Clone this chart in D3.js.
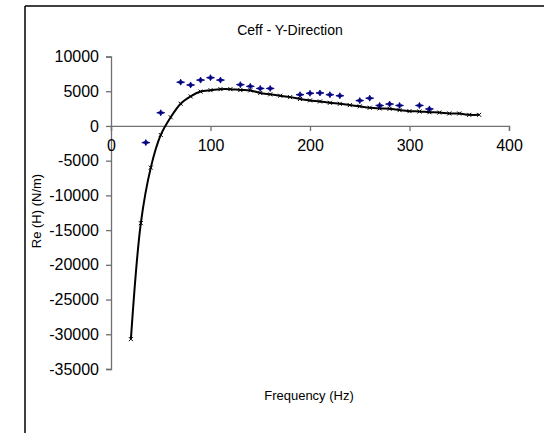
<!DOCTYPE html>
<html>
<head>
<meta charset="utf-8">
<script src="https://cdn.jsdelivr.net/npm/d3@7"></script>
<style>
  html, body { margin: 0; padding: 0; background: #fff; }
  svg { display: block; font-family: "Liberation Sans", Arial, sans-serif; }
</style>
</head>
<body>
<svg id="chart" width="544" height="433"></svg>
<script>
// ---- data ----
const title = "Ceff - Y-Direction";
const xLabel = "Frequency (Hz)";
const yLabel = "Re (H) (N/m)";
const xTicks = [0, 100, 200, 300, 400];
const yTicks = [10000, 5000, 0, -5000, -10000, -15000, -20000, -25000, -30000, -35000];

// measured points (blue markers)
const measFreq = [35, 50, 70, 80, 90, 100, 110, 130, 140, 150, 160, 190, 200, 210, 220, 230, 250, 260, 270, 280, 290, 310, 320];
const measVal  = [-2400, 1900, 6300, 5900, 6600, 6950, 6600, 5950, 5700, 5400, 5400, 4500, 4700, 4750, 4500, 4350, 3650, 4000, 2950, 3150, 2950, 2950, 2450];

// model curve (black line)
const modelFreq = [20, 30, 40, 50, 60, 70, 80, 90, 100, 110, 120, 130, 140, 150, 160, 170, 180, 190, 200, 210, 220, 230, 240, 250, 260, 270, 280, 290, 300, 310, 320, 330, 340, 350, 360, 370];
const modelVal  = [-30700, -14000, -6000, -1300, 1250, 3200, 4250, 4950, 5150, 5300, 5300, 5170, 5120, 4750, 4550, 4350, 4150, 3880, 3680, 3530, 3330, 3190, 3000, 2820, 2620, 2520, 2470, 2280, 2130, 2080, 1980, 1930, 1800, 1790, 1600, 1600];

// ---- drawing ----
const svg = d3.select("#chart");
const fmt = d => String(d);   // plain hyphen-minus like the reference

// outer frame (left and top edges visible)
svg.append("line").attr("x1", 25).attr("y1", 6).attr("x2", 544).attr("y2", 6)
  .attr("stroke", "#000").attr("stroke-width", 1.5);
svg.append("line").attr("x1", 25).attr("y1", 6).attr("x2", 25).attr("y2", 433)
  .attr("stroke", "#000").attr("stroke-width", 1.5);

const x = d3.scaleLinear().domain([0, 400]).range([111, 509]);
const y = d3.scaleLinear().domain([-35000, 10000]).range([369, 56.5]);

const axisColor = "#707070";

// y axis
const yAxis = svg.append("g")
  .attr("transform", `translate(${x(0)},0)`)
  .call(d3.axisLeft(y).tickValues(yTicks).tickSize(5).tickPadding(7).tickFormat(fmt));
yAxis.select(".domain").attr("stroke", axisColor).attr("stroke-width", 1.3);
yAxis.selectAll(".tick line").attr("stroke", axisColor).attr("stroke-width", 1.3);
yAxis.selectAll(".tick text").attr("fill", "#000").attr("font-size", 16)
  .attr("font-family", "Liberation Sans, Arial, sans-serif");

// x axis at y = 0
const xAxis = svg.append("g")
  .attr("transform", `translate(0,${y(0)})`)
  .call(d3.axisBottom(x).tickValues(xTicks).tickSize(5).tickPadding(9).tickFormat(fmt));
xAxis.select(".domain").attr("stroke", axisColor).attr("stroke-width", 1.3);
xAxis.selectAll(".tick line").attr("stroke", axisColor).attr("stroke-width", 1.3);
xAxis.selectAll(".tick text").attr("fill", "#000").attr("font-size", 16)
  .attr("font-family", "Liberation Sans, Arial, sans-serif");

// model curve
const modelData = modelFreq.map((f, i) => [f, modelVal[i]]);
svg.append("path")
  .datum(modelData)
  .attr("fill", "none")
  .attr("stroke", "#000")
  .attr("stroke-width", 2)
  .attr("d", d3.line().x(d => x(d[0])).y(d => y(d[1])).curve(d3.curveCatmullRom.alpha(0.5)));

// small x markers on the curve
svg.append("g").selectAll("path")
  .data(modelData)
  .join("path")
  .attr("transform", d => `translate(${x(d[0])},${y(d[1])})`)
  .attr("d", "M-2,-2L2,2M-2,2L2,-2")
  .attr("stroke", "#000")
  .attr("stroke-width", 1);

// measured markers (dark blue diamonds)
const measData = measFreq.map((f, i) => [f, measVal[i]]);
svg.append("g").selectAll("path")
  .data(measData)
  .join("path")
  .attr("transform", d => `translate(${x(d[0])},${y(d[1])})`)
  .attr("d", "M0,-3L1,-1L4,0L1,1L0,3L-1,1L-4,0L-1,-1Z")
  .attr("fill", "#000080")
  .attr("stroke", "#000080")
  .attr("stroke-width", 0.8);

// title
svg.append("text")
  .attr("x", 290).attr("y", 35)
  .attr("text-anchor", "middle")
  .attr("font-size", 14)
  .text(title);

// x label
svg.append("text")
  .attr("x", 309).attr("y", 400)
  .attr("text-anchor", "middle")
  .attr("font-size", 13)
  .text(xLabel);

// y label
svg.append("text")
  .attr("transform", "translate(41,211) rotate(-90)")
  .attr("text-anchor", "middle")
  .attr("font-size", 13)
  .text(yLabel);
</script>
</body>
</html>
